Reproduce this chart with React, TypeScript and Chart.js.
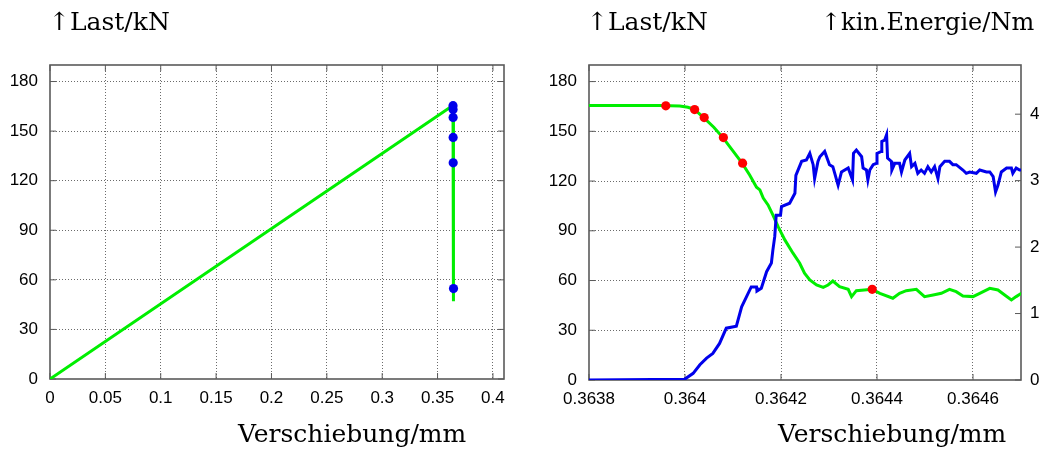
import { useEffect, useRef } from 'react';
import { Chart, registerables } from 'chart.js';

Chart.register(...registerables);

// ---------- data ----------
const loadX = [0.3638, 0.363947, 0.363989, 0.364006, 0.36402, 0.364039, 0.36406, 0.364079, 0.364099, 0.364119, 0.364135, 0.364149, 0.364156, 0.364163, 0.364173, 0.364183, 0.364194, 0.364208, 0.364225, 0.364239, 0.364249, 0.36426, 0.364274, 0.364288, 0.364298, 0.364308, 0.364322, 0.36434, 0.364347, 0.364357, 0.36439, 0.364406, 0.364433, 0.364447, 0.364461, 0.364482, 0.364499, 0.364517, 0.364534, 0.364551, 0.364565, 0.364579, 0.3646, 0.364614, 0.364635, 0.364652, 0.364666, 0.36468, 0.36469, 0.364701];
const loadY = [165.5, 165.5, 165.3, 164.5, 163.1, 158.3, 152.5, 146.2, 138.5, 130.8, 123.5, 116.3, 114.7, 109.7, 105.6, 99.6, 92.5, 84.5, 76.5, 70.4, 64.4, 60.4, 57.3, 55.9, 57.3, 59.7, 56.3, 54.7, 50.3, 53.9, 54.7, 52.3, 49.3, 52.3, 53.9, 54.7, 50.3, 51.3, 52.3, 54.7, 53.3, 50.7, 50.3, 52.3, 55.3, 54.3, 51.3, 48.3, 50.3, 52.3];

const leftTailX = [0.36472];
const leftTailY = [47];

const energyX = [0.3638, 0.363999, 0.364017, 0.364031, 0.364045, 0.364058, 0.364072, 0.364086, 0.364107, 0.364118, 0.364128, 0.364138, 0.364149, 0.36415, 0.364159, 0.36417, 0.36418, 0.364183, 0.364187, 0.36419, 0.364199, 0.364201, 0.364218, 0.364229, 0.364231, 0.364243, 0.364253, 0.36426, 0.364267, 0.36427, 0.364277,
  0.364281, 0.364291, 0.364301, 0.364308, 0.364312, 0.364319, 0.364326, 0.36434, 0.364349, 0.364351, 0.364357, 0.364368, 0.364371, 0.364378, 0.364381, 0.364385, 0.364392, 0.364399, 0.3644, 0.364409, 0.36441, 0.364416, 0.36442, 0.364422, 0.36443, 0.364431, 0.364437, 0.364447, 0.364451, 0.364458, 0.364468, 0.364472, 0.364479, 0.364485, 0.364492, 0.364499, 0.364506, 0.364513, 0.36452, 0.364527, 0.364531, 0.364541, 0.364551, 0.364558, 0.364565, 0.364579, 0.364586, 0.364593, 0.364607, 0.364614, 0.364628, 0.364635, 0.364642, 0.364647, 0.364652, 0.364659, 0.36467, 0.36468, 0.364683, 0.36469, 0.364697, 0.364701];
const energyY = [0, 0.01, 0.10, 0.23, 0.33, 0.40, 0.55, 0.78, 0.81, 1.10, 1.25, 1.40, 1.40, 1.34, 1.38, 1.63, 1.76, 1.95, 2.16, 2.48, 2.48, 2.61, 2.66, 2.81, 3.08, 3.29, 3.31, 3.41, 3.24, 3.03, 3.29,
  3.36, 3.44, 3.24, 3.21, 3.11, 2.93, 3.13, 3.19, 3.01, 3.41, 3.46, 3.36, 3.19, 3.16, 3.01, 3.16, 3.24, 3.26, 3.41, 3.44, 3.59, 3.61, 3.69, 3.34, 3.29, 3.16, 3.26, 3.26, 3.13, 3.31, 3.41, 3.21, 3.26, 3.11, 3.16, 3.11, 3.21, 3.13, 3.21, 3.03, 3.21, 3.29, 3.29, 3.24, 3.24, 3.16, 3.11, 3.13, 3.11, 3.16, 3.13, 3.13, 3.06, 2.83, 2.93, 3.13, 3.19, 3.19, 3.11, 3.19, 3.16, 3.16];

const markerX = [0.36396, 0.36402, 0.36404, 0.36408, 0.36412, 0.36439];
const markerY = [165.4, 163.1, 158.3, 146.2, 130.8, 54.7];

const leftXTicks = [0, 0.05, 0.1, 0.15, 0.2, 0.25, 0.3, 0.35, 0.4];
const loadTicks = [0, 30, 60, 90, 120, 150, 180];
const rightXTicks = [0.3638, 0.364, 0.3642, 0.3644, 0.3646];
const energyTicks = [0, 1, 2, 3, 4];

const loadTitle = '↑Last/kN';
const energyTitle = '↑kin.Energie/Nm';
const xTitle = 'Verschiebung/mm';

// ---------- styles ----------
const GREEN = 'rgb(0,238,0)';
const BLUE = 'rgb(0,0,235)';
const RED = 'rgb(255,0,0)';
const GRID = 'rgba(70,70,70,0.8)';
const FRAME = '#5a5a5a';
const TICK_FONT = { family: '"Liberation Sans", Arial, sans-serif', size: 17 };
const SERIF = '"DejaVu Serif", serif';

const pts = (xs: number[], ys: number[]) => xs.map((x, i) => ({ x, y: ys[i] }));
const fixedTicks = (arr: number[]) => (scale: any) => {
  scale.ticks = arr.map((v) => ({ value: v }));
};
const gridColor = (c: any) =>
  c.tick && c.scale && c.tick.value === c.scale.min ? 'rgba(0,0,0,0)' : GRID;

const framePlugin = {
  id: 'frameTicks',
  beforeDatasetsDraw(chart: any) {
    const { ctx, chartArea, scales } = chart;
    const { left, right, top, bottom } = chartArea;
    const L = 6;
    ctx.save();
    ctx.strokeStyle = FRAME;
    ctx.lineWidth = 1;
    ctx.beginPath();
    scales.x.ticks.forEach((t: any) => {
      const px = scales.x.getPixelForValue(t.value);
      ctx.moveTo(px, bottom);
      ctx.lineTo(px, bottom - L);
      ctx.moveTo(px, top);
      ctx.lineTo(px, top + L);
    });
    scales.y.ticks.forEach((t: any) => {
      const py = scales.y.getPixelForValue(t.value);
      ctx.moveTo(left, py);
      ctx.lineTo(left + L, py);
      if (!scales.y1) {
        ctx.moveTo(right, py);
        ctx.lineTo(right - L, py);
      }
    });
    if (scales.y1) {
      scales.y1.ticks.forEach((t: any) => {
        const py = scales.y1.getPixelForValue(t.value);
        ctx.moveTo(right, py);
        ctx.lineTo(right - L, py);
      });
    }
    ctx.stroke();
    ctx.lineWidth = 1.6;
    ctx.strokeRect(left, top, right - left, bottom - top);
    ctx.restore();
  },
};

const xAxis = (min: number, max: number, ticks: number[], height: number) => ({
  type: 'linear',
  min,
  max,
  afterBuildTicks: fixedTicks(ticks),
  afterFit: (s: any) => {
    s.height = height;
  },
  grid: { color: gridColor, lineWidth: 1, drawTicks: false },
  border: { display: false, dash: [1, 2] },
  ticks: {
    callback: (v: any) => String(v),
    font: TICK_FONT,
    color: '#000',
    padding: 9,
    maxRotation: 0,
    autoSkip: false,
  },
});

const yAxis = (max: number, ticks: number[], width: number) => ({
  type: 'linear',
  min: 0,
  max,
  afterBuildTicks: fixedTicks(ticks),
  afterFit: (s: any) => {
    s.width = width;
  },
  grid: { color: gridColor, lineWidth: 1, drawTicks: false },
  border: { display: false, dash: [1, 2] },
  ticks: {
    callback: (v: any) => String(v),
    font: TICK_FONT,
    color: '#000',
    padding: 12,
    autoSkip: false,
  },
});

export default function App() {
  const leftRef = useRef<HTMLCanvasElement>(null);
  const rightRef = useRef<HTMLCanvasElement>(null);

  useEffect(() => {
    const left = new Chart(leftRef.current as HTMLCanvasElement, {
      type: 'line',
      data: {
        datasets: [
          {
            data: pts(markerX, markerY),
            showLine: false,
            pointRadius: 4.6,
            pointBackgroundColor: BLUE,
            pointBorderWidth: 0,
            borderWidth: 0,
          },
          {
            data: pts([0, ...loadX, ...leftTailX], [0, ...loadY, ...leftTailY]),
            borderColor: GREEN,
            borderWidth: 3,
            pointRadius: 0,
            fill: false,
            tension: 0,
          },
        ],
      } as any,
      options: {
        animation: false,
        responsive: false,
        events: [],
        layout: { padding: { left: 0, right: 16, top: 65, bottom: 0 } },
        plugins: { legend: { display: false }, tooltip: { enabled: false } },
        scales: {
          x: xAxis(0, 0.41, leftXTicks, 79),
          y: yAxis(190, loadTicks, 50),
        },
      } as any,
      plugins: [framePlugin],
    });

    const right = new Chart(rightRef.current as HTMLCanvasElement, {
      type: 'line',
      data: {
        datasets: [
          {
            data: pts(markerX, markerY),
            showLine: false,
            pointRadius: 4.6,
            pointBackgroundColor: RED,
            pointBorderWidth: 0,
            borderWidth: 0,
            yAxisID: 'y',
          },
          {
            data: pts(energyX, energyY),
            borderColor: BLUE,
            borderWidth: 3,
            pointRadius: 0,
            fill: false,
            tension: 0,
            yAxisID: 'y1',
          },
          {
            data: pts(loadX, loadY),
            borderColor: GREEN,
            borderWidth: 3,
            pointRadius: 0,
            fill: false,
            tension: 0,
            yAxisID: 'y',
          },
        ],
      } as any,
      options: {
        animation: false,
        responsive: false,
        events: [],
        layout: { padding: { left: 0, right: 0, top: 65, bottom: 0 } },
        plugins: { legend: { display: false }, tooltip: { enabled: false } },
        scales: {
          x: xAxis(0.3638, 0.3647, rightXTicks, 78),
          y: yAxis(190, loadTicks, 69),
          y1: {
            ...yAxis(4.74, energyTicks, 25),
            position: 'right',
            grid: { display: false, drawOnChartArea: false, drawTicks: false },
            ticks: {
              callback: (v: any) => String(v),
              font: TICK_FONT,
              color: '#000',
              padding: 9,
              autoSkip: false,
            },
          },
        },
      } as any,
      plugins: [framePlugin],
    });

    return () => {
      left.destroy();
      right.destroy();
    };
  }, []);

  const titleStyle = (l: number, t: number, size = 25): any => ({
    position: 'absolute',
    left: l,
    top: t,
    fontFamily: SERIF,
    fontSize: size,
    lineHeight: `${size}px`,
    whiteSpace: 'nowrap',
    color: '#000',
  });

  return (
    <div
      style={{
        position: 'fixed',
        left: 0,
        top: 0,
        width: 1046,
        height: 458,
        background: '#fff',
        overflow: 'hidden',
      }}
    >
      <canvas
        ref={leftRef}
        width={520}
        height={458}
        style={{ position: 'absolute', left: 0, top: 0, width: 520, height: 458 }}
      />
      <canvas
        ref={rightRef}
        width={526}
        height={458}
        style={{ position: 'absolute', left: 520, top: 0, width: 526, height: 458 }}
      />
      <div style={titleStyle(49, 9)}>{loadTitle}</div>
      <div style={titleStyle(587, 9)}>{loadTitle}</div>
      <div style={titleStyle(821, 9.5, 24)}>{energyTitle}</div>
      <div style={titleStyle(238, 420.5)}>{xTitle}</div>
      <div style={titleStyle(778, 420.5)}>{xTitle}</div>
    </div>
  );
}
